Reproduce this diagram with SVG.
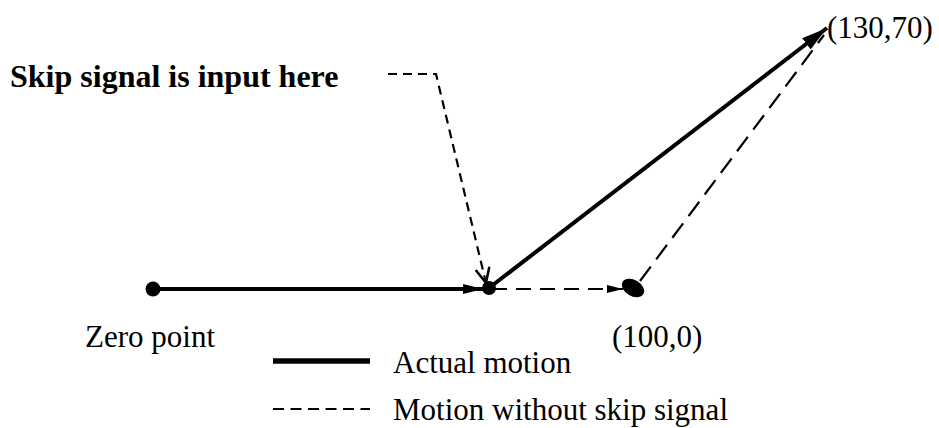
<svg xmlns="http://www.w3.org/2000/svg" width="939" height="428" viewBox="0 0 939 428">
<style>
text{font-family:"Liberation Serif","Times New Roman",serif;font-size:31px;fill:#000}
.b{font-weight:bold;font-size:32px}
.solid{stroke:#000;stroke-width:4;fill:none}
.dash{stroke:#000;stroke-width:2.2;fill:none}
</style>
<defs>
<marker id="ah" markerUnits="userSpaceOnUse" markerWidth="20" markerHeight="10" refX="20" refY="5" orient="auto"><path d="M0,0 L20,5 L0,10 z" fill="#000"/></marker>
<marker id="ahBig" markerUnits="userSpaceOnUse" markerWidth="26" markerHeight="14" refX="26" refY="7" orient="auto"><path d="M0,0 L26,7 L0,14 z" fill="#000"/></marker>
<marker id="ahSmall" markerUnits="userSpaceOnUse" markerWidth="16" markerHeight="10" refX="16" refY="5" orient="auto"><path d="M0,1 L16,5 L0,9 z" fill="#000"/></marker>
<marker id="ahOpen" markerUnits="userSpaceOnUse" markerWidth="18" markerHeight="18" refX="16" refY="9" orient="auto"><path d="M1,2 L16,9 L1,16" fill="none" stroke="#000" stroke-width="2.5" stroke-dasharray="none"/></marker>
</defs>
<g id="connectors">
<line class="solid" x1="153" y1="289" x2="483" y2="289" marker-end="url(#ah)"/>
<line class="solid" x1="489" y1="288" x2="827" y2="28" marker-end="url(#ahBig)"/>
<line class="dash" x1="492" y1="289" x2="623" y2="289" stroke-dasharray="15 9" marker-end="url(#ahSmall)"/>
<line class="dash" x1="640" y1="281" x2="824" y2="35" stroke-dasharray="18 9"/>
<polyline class="dash" points="388,74 436,74 486,283" stroke-dasharray="9 6" marker-end="url(#ahOpen)"/>
</g>
<g id="zero-point">
<circle cx="153" cy="289" r="7.5" fill="#000"/>
<text x="85" y="347">Zero point</text>
</g>
<g id="skip-point">
<circle cx="489" cy="288" r="7" fill="#000"/>
</g>
<g id="point-100-0">
<ellipse cx="633" cy="288" rx="12" ry="8" transform="rotate(30 633 288)" fill="#000"/>
<text x="612" y="347">(100,0)</text>
</g>
<g id="point-130-70">
<text x="827" y="38">(130,70)</text>
</g>
<g id="skip-label">
<text class="b" x="10" y="87">Skip signal is input here</text>
</g>
<g id="legend">
<line x1="273" y1="361" x2="370" y2="361" stroke="#000" stroke-width="5.5"/>
<text x="393" y="373">Actual motion</text>
<line x1="273" y1="409" x2="370" y2="409" stroke="#000" stroke-width="2" stroke-dasharray="11 6.5"/>
<text x="393" y="420">Motion without skip signal</text>
</g>
</svg>
